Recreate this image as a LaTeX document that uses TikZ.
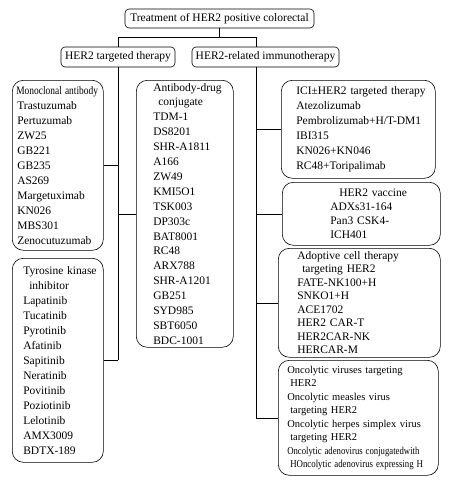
\documentclass[tikz,border=0pt]{standalone}
\usepackage{fontspec}
\setmainfont{Liberation Serif}
\begin{document}
\begin{tikzpicture}[x=1pt,y=-1pt,
  every node/.style={font=\fontsize{11.5}{15}\selectfont},
  box/.style={draw, line width=0.6pt, rounded corners=11pt, anchor=north west,
              align=left, inner xsep=0pt, inner ysep=0pt},
  tbox/.style={draw, line width=0.6pt, rounded corners=4pt, inner sep=0pt},
  link/.style={line width=0.6pt}]
\useasboundingbox (0,0) rectangle (450,482);
\fill[white] (0,0) rectangle (450,482);

% top level
\node[tbox, minimum width=189pt, minimum height=19pt] (root) at (219.5,18.5)
  {Treatment of HER2 positive colorectal};
\node[tbox, minimum width=114pt, minimum height=20pt] (tgt) at (118,57)
  {HER2 targeted therapy};
\node[tbox, minimum width=147pt, minimum height=20pt] (imm) at (265.5,57)
  {HER2-related immunotherapy};

% left column
\node[box, text width=91pt, minimum height=170pt] (mab) at (12,80)
  {\leftskip=4pt \scalebox{0.82}[1]{Monoclonal antibody}\\\hspace*{1pt}Trastuzumab\\\hspace*{1pt}Pertuzumab\\\hspace*{1pt}ZW25\\\hspace*{1pt}GB221\\\hspace*{1pt}GB235\\\hspace*{1pt}AS269\\\hspace*{1pt}Margetuximab\\\hspace*{1pt}KN026\\\hspace*{1pt}MBS301\\\hspace*{1pt}Zenocutuzumab\par};
\node[box, text width=91pt, minimum height=204pt] (tki) at (12,258)
  {\leftskip=11pt Tyrosine kinase\\\hspace*{6pt}inhibitor\\Lapatinib\\Tucatinib\\Pyrotinib\\Afatinib\\Sapitinib\\Neratinib\\Povitinib\\Poziotinib\\Lelotinib\\AMX3009\\BDTX-189\par};

% middle column
\node[box, text width=97pt, minimum height=267pt, font=\fontsize{11.5}{14.9}\selectfont] (adc) at (136,80)
  {\leftskip=17pt Antibody-drug\\\hspace*{5pt}conjugate\\TDM-1\\DS8201\\SHR-A1811\\A166\\ZW49\\KMI5O1\\TSK003\\DP303c\\BAT8001\\RC48\\ARX788\\SHR-A1201\\GB251\\SYD985\\SBT6050\\BDC-1001\par};

% right column
\node[box, text width=154pt, minimum height=98pt] (ici) at (281,80)
  {\leftskip=15pt ICI\textpm HER2 targeted therapy\\Atezolizumab\\Pembrolizumab+H/T-DM1\\IBI315\\KN026+KN046\\RC48+Toripalimab\par};
\node[box, text width=158pt, minimum height=63pt, font=\fontsize{11.5}{13.8}\selectfont] (vac) at (282,182)
  {\leftskip=48pt \hspace*{9pt}HER2 vaccine\\ADXs31-164\\Pan3 CSK4-\\ICH401\par};
\node[box, text width=162pt, minimum height=109pt, font=\fontsize{11.5}{13.5}\selectfont] (ado) at (278,248)
  {\leftskip=19pt Adoptive cell therapy\\\hspace*{5pt}targeting HER2\\FATE-NK100+H\\SNKO1+H\\ACE1702\\HER2 CAR-T\\HER2CAR-NK\\HERCAR-M\par};
\node[box, text width=160pt, minimum height=115pt, font=\fontsize{10.5}{13.5}\selectfont] (onc) at (278,360)
  {\leftskip=9pt Oncolytic viruses targeting\\\hspace*{3pt}HER2\\Oncolytic measles virus\\\hspace*{3pt}targeting HER2\\Oncolytic herpes simplex virus\\\hspace*{3pt}targeting HER2\\\scalebox{0.83}[1]{Oncolytic adenovirus conjugatedwith}\\\hspace*{3pt}\scalebox{0.84}[1]{HOncolytic adenovirus expressing H}\par};

% connectors
\coordinate (lj) at (118,37);
\coordinate (rj) at (256,37);
\draw[link] (root.south) -- (root.south |- lj);
\draw[link] (lj) -- (rj);
\draw[link] (lj) -- (tgt.north);
\draw[link] (rj) -- (rj |- imm.north);
\draw[link] (tgt.south) -- (tgt.south |- tki.east);
\draw[link] (mab.east) -- (mab.east -| tgt.south);
\draw[link] (tki.east) -- (tki.east -| tgt.south);
\draw[link] (adc.west -| tgt.south) -- (adc.west);
\draw[link] (rj |- imm.south) -- (rj |- onc.west);
\draw[link] (rj |- ici.west) -- (ici.west);
\draw[link] (rj |- vac.west) -- (vac.west);
\draw[link] (rj |- ado.west) -- (ado.west);
\draw[link] (rj |- onc.west) -- (onc.west);
\end{tikzpicture}
\end{document}
